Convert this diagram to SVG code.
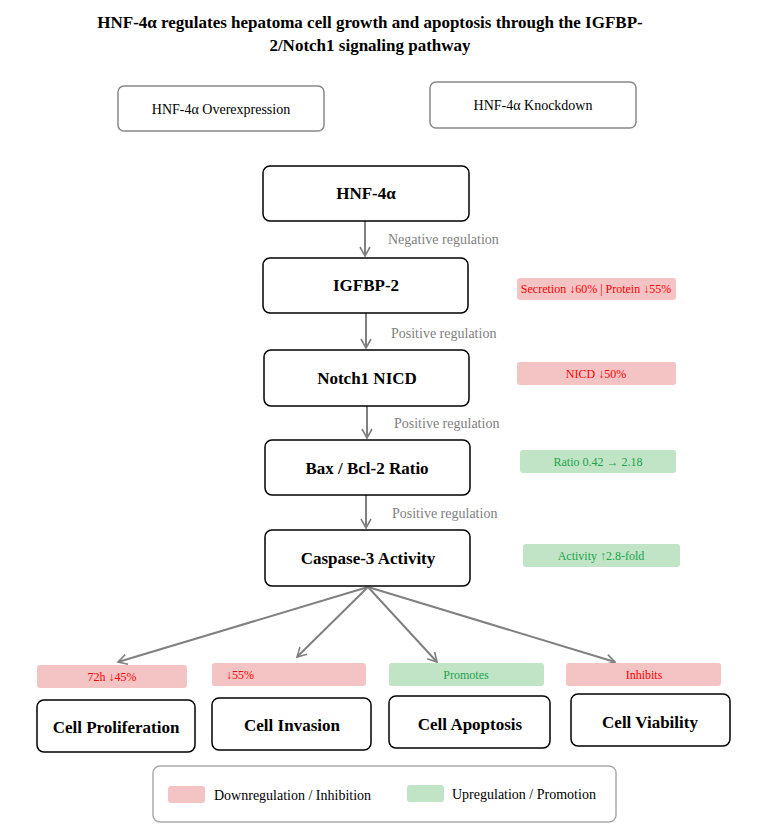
<svg xmlns="http://www.w3.org/2000/svg" width="763" height="840" viewBox="0 0 763 840">
<style>
text{font-family:"Liberation Serif","Times New Roman",serif}
.t{font-size:17px;font-weight:bold;text-anchor:middle;fill:#000}
.n{fill:#fff;stroke:#000;stroke-width:1.5}
.nl{font-size:17px;font-weight:bold;text-anchor:middle}
.g{fill:#fff;stroke:#888;stroke-width:1.5}
.gl{font-size:14px;text-anchor:middle}
.e{stroke:#808080;stroke-width:2;fill:none;marker-end:url(#a)}
.el{font-size:14px;fill:#808080}
.r{fill:#f4c4c4}.gr{fill:#c1e4c7}
.rt{font-size:12px;fill:#ff0000;text-anchor:middle}
.gt{font-size:12px;fill:#1aa34a;text-anchor:middle}
</style>
<defs><marker id="a" markerWidth="12" markerHeight="12" refX="10" refY="6" orient="auto" markerUnits="userSpaceOnUse"><path d="M1,1 L10,6 L1,11" fill="none" stroke="#808080" stroke-width="1.6"/></marker></defs>
<rect width="763" height="840" fill="#fff"/>
<text class="t" x="370" y="28">HNF-4α regulates hepatoma cell growth and apoptosis through the IGFBP-</text>
<text class="t" x="370" y="51">2/Notch1 signaling pathway</text>
<g id="over"><rect class="g" x="118" y="86" width="206" height="45" rx="6"/><text class="gl" x="221" y="114">HNF-4α Overexpression</text></g>
<g id="knock"><rect class="g" x="430" y="82" width="206" height="46" rx="6"/><text class="gl" x="533" y="110">HNF-4α Knockdown</text></g>
<g id="connectors">
<line class="e" x1="365" y1="221" x2="365" y2="256"/><text class="el" x="388" y="244">Negative regulation</text>
<line class="e" x1="366" y1="313" x2="366" y2="348"/><text class="el" x="391" y="338">Positive regulation</text>
<line class="e" x1="367" y1="406" x2="367" y2="438"/><text class="el" x="394" y="428">Positive regulation</text>
<line class="e" x1="366" y1="495" x2="366" y2="528"/><text class="el" x="392" y="518">Positive regulation</text>
<line class="e" x1="368" y1="587" x2="118" y2="662"/>
<line class="e" x1="368" y1="587" x2="297" y2="657"/>
<line class="e" x1="368" y1="587" x2="437" y2="662"/>
<line class="e" x1="368" y1="587" x2="615" y2="662"/>
</g>
<g id="hnf"><rect class="n" x="263" y="166" width="206" height="55" rx="7"/><text class="nl" x="366" y="199">HNF-4α</text></g>
<g id="igfbp"><rect class="n" x="263" y="258" width="205" height="55" rx="7"/><text class="nl" x="366" y="291">IGFBP-2</text></g>
<g id="notch"><rect class="n" x="264" y="350" width="205" height="56" rx="7"/><text class="nl" x="367" y="384">Notch1 NICD</text></g>
<g id="bax"><rect class="n" x="265" y="440" width="205" height="55" rx="7"/><text class="nl" x="367" y="474">Bax / Bcl-2 Ratio</text></g>
<g id="casp"><rect class="n" x="265" y="530" width="205" height="56" rx="7"/><text class="nl" x="368" y="564">Caspase-3 Activity</text></g>
<g id="b1"><rect class="r" x="517" y="278" width="159" height="22" rx="3"/><text class="rt" x="596" y="293">Secretion ↓60% | Protein ↓55%</text></g>
<g id="b2"><rect class="r" x="517" y="362" width="159" height="23" rx="3"/><text class="rt" x="596" y="378">NICD ↓50%</text></g>
<g id="b3"><rect class="gr" x="520" y="450" width="156" height="23" rx="3"/><text class="gt" x="598" y="466">Ratio 0.42 → 2.18</text></g>
<g id="b4"><rect class="gr" x="523" y="544" width="157" height="23" rx="3"/><text class="gt" x="601" y="560">Activity ↑2.8-fold</text></g>
<g id="b5"><rect class="r" x="37" y="665" width="150" height="23" rx="3"/><text class="rt" x="112" y="681">72h ↓45%</text></g>
<g id="b6"><rect class="r" x="212" y="663" width="154" height="23" rx="3"/><text class="rt" x="240" y="679">↓55%</text></g>
<g id="b7"><rect class="gr" x="389" y="663" width="155" height="23" rx="3"/><text class="gt" x="466" y="679">Promotes</text></g>
<g id="b8"><rect class="r" x="566" y="663" width="155" height="23" rx="3"/><text class="rt" x="644" y="679">Inhibits</text></g>
<g id="prolif"><rect class="n" x="37" y="700" width="158" height="52" rx="7"/><text class="nl" x="116" y="733">Cell Proliferation</text></g>
<g id="inv"><rect class="n" x="212" y="698" width="159" height="52" rx="7"/><text class="nl" x="292" y="731">Cell Invasion</text></g>
<g id="apop"><rect class="n" x="389" y="696" width="161" height="52" rx="7"/><text class="nl" x="470" y="730">Cell Apoptosis</text></g>
<g id="viab"><rect class="n" x="571" y="694" width="159" height="52" rx="7"/><text class="nl" x="650" y="728">Cell Viability</text></g>
<g id="legend"><rect x="153" y="766" width="463" height="56" rx="7" fill="#fff" stroke="#aaa" stroke-width="1.5"/>
<rect class="r" x="168" y="786" width="37" height="17" rx="3"/><text x="214" y="800" font-size="14">Downregulation / Inhibition</text>
<rect class="gr" x="407" y="785" width="37" height="17" rx="3"/><text x="452" y="799" font-size="14">Upregulation / Promotion</text></g>
</svg>
